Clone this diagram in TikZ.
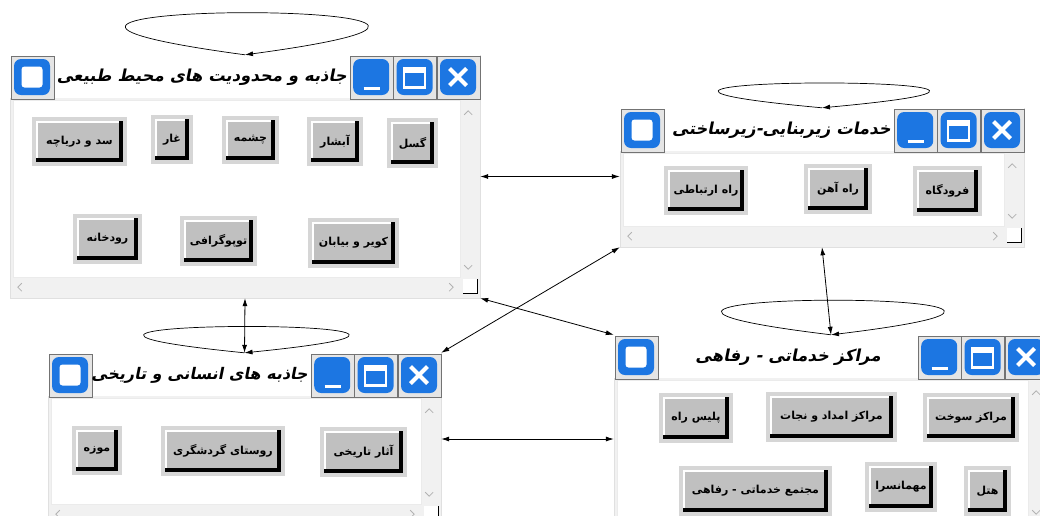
\documentclass[tikz,border=0pt]{standalone}
\usepackage{fontspec}
\usepackage{tikz}
\usetikzlibrary{arrows.meta,calc,positioning}
\TeXXeTstate=1
\newfontfamily\arabicfont[Script=Arabic]{DejaVu Sans}
\newfontfamily\titlefont[Script=Arabic,FakeSlant=0.2]{DejaVu Sans}
\definecolor{winblue}{RGB}{28,118,226}
\definecolor{btngray}{RGB}{192,192,192}
\definecolor{btnframe}{RGB}{214,214,214}
\definecolor{paneback}{RGB}{241,241,241}

\newcommand{\bluebox}{\fill[winblue, rounded corners=7pt] ([shift={(3,3)}]path picture bounding box.north west) rectangle ([shift={(-4,-4)}]path picture bounding box.south east);}

\tikzset{
  window/.style={rectangle, fill=paneback, draw=black!12, inner sep=0pt},
  capbox/.style={rectangle, fill=black!10, draw=black!55, minimum width=43pt, minimum height=43pt, inner sep=0pt},
  iconbtn/.style={capbox, path picture={\bluebox
    \fill[white, rounded corners=3pt, shift={(path picture bounding box.center)}] (-11,-11) rectangle (10,10);}},
  minbtn/.style={capbox, path picture={\bluebox
    \draw[white, line width=2.5pt, shift={(path picture bounding box.center)}] (-8,11) -- (8,11);}},
  maxbtn/.style={capbox, path picture={\bluebox
    \draw[white, line width=2.5pt, shift={(path picture bounding box.center)}] (-11,-9) rectangle (10,10);
    \fill[white, shift={(path picture bounding box.center)}] (-11,-10) rectangle (10,-5);}},
  clsbtn/.style={capbox, path picture={\bluebox
    \draw[white, line width=4pt, shift={(path picture bounding box.center)}] (-9,-9) -- (8,8) (-9,8) -- (8,-9);}},
  btn/.style={rectangle, fill=btngray, draw=btnframe, line width=4pt, inner sep=0pt,
    font=\arabicfont\bfseries\fontsize{11}{13}\selectfont,
    path picture={
      \draw[white, line width=7pt] (path picture bounding box.south west) -- (path picture bounding box.north west) -- (path picture bounding box.north east);
      \draw[black, line width=12pt] (path picture bounding box.north east) -- (path picture bounding box.south east) -- (path picture bounding box.south west);}},
  wintitle/.style={font=\titlefont\bfseries\fontsize{16.5}{20}\selectfont, inner sep=0pt},
  scrollmark/.style={black!30, line width=0.8pt},
  link/.style={<->, >={Latex[length=8pt, width=5pt]}, line width=0.8pt},
  loopy/.style={->, >={Latex[length=8pt, width=5pt]}, line width=0.7pt}
}

% title bar, caption buttons and scroll bars of a window node
\newcommand{\winchrome}[1]{%
  \fill[white] (#1.north west) rectangle ([shift={(0,43)}]#1.north east);
  \filldraw[white, draw=black!8] ([shift={(3,45)}]#1.north west) rectangle ([shift={(-20,-21)}]#1.south east);
  \node[iconbtn, anchor=north west] (#1-icon) at ([shift={(1,1)}]#1.north west) {};
  \node[clsbtn, anchor=north east] (#1-cls) at ([shift={(0,1)}]#1.north east) {};
  \node[maxbtn, anchor=north east] (#1-max) at (#1-cls.north west) {};
  \node[minbtn, anchor=north east] (#1-min) at (#1-max.north west) {};
  \draw[scrollmark] ([shift={(-16,60)}]#1.north east) -- ([shift={(-12,56)}]#1.north east) -- ([shift={(-8,60)}]#1.north east);
  \draw[scrollmark] ([shift={(-16,-33)}]#1.south east) -- ([shift={(-12,-29)}]#1.south east) -- ([shift={(-8,-33)}]#1.south east);
  \draw[scrollmark] ([shift={(12,-15)}]#1.south west) -- ([shift={(8,-11)}]#1.south west) -- ([shift={(12,-7)}]#1.south west);
  \draw[scrollmark] ([shift={(-31,-15)}]#1.south east) -- ([shift={(-27,-11)}]#1.south east) -- ([shift={(-31,-7)}]#1.south east);
  \fill[white] ([shift={(-17,-19)}]#1.south east) rectangle ([shift={(-3,-5)}]#1.south east);
  \draw[black, line width=1.2pt] ([shift={(-17,-5)}]#1.south east) -- ([shift={(-3,-5)}]#1.south east) -- ([shift={(-3,-19)}]#1.south east);
}

\begin{document}
\begin{tikzpicture}[x=1pt, y=-1pt]
\path[use as bounding box, fill=white] (0,0) rectangle (1040,515);

% windows
\node[window, minimum width=470pt, minimum height=243pt] (nat) at (245,176.5) {};
\node[window, minimum width=404pt, minimum height=139pt] (infra) at (822,177.5) {};
\node[window, minimum width=393pt, minimum height=172pt] (hist) at (244.5,439) {};
\node[window, minimum width=434pt, minimum height=208pt] (serv) at (831,439) {};
\winchrome{nat}
\winchrome{infra}
\winchrome{hist}
\winchrome{serv}

% titles
\node[wintitle, anchor=east] (nat-title) at ([shift={(-3,0)}]nat-min.west) {\beginR جاذبه و محدودیت های محیط طبیعی\endR};
\node[wintitle, anchor=east] (infra-title) at ([shift={(-3,0)}]infra-min.west) {\beginR خدمات زیربنایی-زیرساختی\endR};
\node[wintitle, anchor=east, font=\titlefont\bfseries\fontsize{16}{20}\selectfont] (hist-title) at ([shift={(-3,0)}]hist-min.west) {\beginR جاذبه های انسانی و تاریخی\endR};
\node[wintitle] (serv-title) at (788,357) {\beginR مراکز خدماتی - رفاهی\endR};

% buttons of the natural attractions
\node[btn, minimum width=47pt, minimum height=46pt] (gosal) at (412.5,143) {\beginR گسل\endR};
\node[btn, minimum width=52pt, minimum height=45pt] (abshar) at (335,141.5) {\beginR آبشار\endR};
\node[btn, minimum width=53pt, minimum height=44pt] (cheshmeh) at (250.5,140) {\beginR چشمه\endR};
\node[btn, minimum width=38pt, minimum height=45pt] (ghar) at (172,139.5) {\beginR غار\endR};
\node[btn, minimum width=91pt, minimum height=45pt] (sad) at (79.5,141.5) {\beginR سد و دریاچه\endR};
\node[btn, minimum width=87pt, minimum height=46pt] (kavir) at (353.5,243) {\beginR کویر و بیابان\endR};
\node[btn, minimum width=73pt, minimum height=46pt] (topo) at (218.5,241) {\beginR توپوگرافی\endR};
\node[btn, minimum width=65pt, minimum height=46pt] (rud) at (107.5,239) {\beginR رودخانه\endR};

% buttons of the infrastructure
\node[btn, minimum width=80pt, minimum height=45pt] (rahert) at (706,190.5) {\beginR راه ارتباطی\endR};
\node[btn, minimum width=64pt, minimum height=46pt] (rahahan) at (838,189) {\beginR راه آهن\endR};
\node[btn, minimum width=65pt, minimum height=46pt] (forud) at (947.5,191) {\beginR فرودگاه\endR};

% buttons of the human and historical attractions
\node[btn, minimum width=46pt, minimum height=45pt] (muzeh) at (97,450.5) {\beginR موزه\endR};
\node[btn, minimum width=120pt, minimum height=46pt] (rusta) at (223,451) {\beginR روستای گردشگری\endR};
\node[btn, minimum width=83pt, minimum height=46pt] (asar) at (363.5,452) {\beginR آثار تاریخی\endR};

% buttons of the service centres
\node[btn, minimum width=70pt, minimum height=46pt] (police) at (696,418) {\beginR پلیس راه\endR};
\node[btn, minimum width=127pt, minimum height=46pt] (emdad) at (831.5,417) {\beginR مراکز امداد و نجات\endR};
\node[btn, minimum width=92pt, minimum height=45pt] (sukht) at (971,417.5) {\beginR مراکز سوخت\endR};
\node[btn, minimum width=149pt, minimum height=46pt] (mojtama) at (755.5,491) {\beginR مجتمع خدماتی - رفاهی\endR};
\node[btn, minimum width=68pt, minimum height=46pt] (mehman) at (901,487) {\beginR مهمانسرا\endR};
\node[btn, minimum width=43pt, minimum height=46pt] (hotel) at (987.5,491) {\beginR هتل\endR};

% self loops
\draw[loopy] (nat.north) .. controls +(-415,-56) and +(415,-56) .. (nat.north);
\draw[loopy] (infra.north) .. controls +(-360,-33) and +(360,-33) .. (infra.north);
\draw[loopy] (hist.north) .. controls +(-350,-35) and +(350,-35) .. (hist.north);
\draw[loopy] (serv.north) .. controls +(-380,-46) and +(380,-46) .. (serv.north);

% links between windows
\draw[link] (nat.east) -- (infra.west |- nat.east);
\draw[link] (nat.south east) -- (serv.north west);
\draw[link] (infra.south west) -- (hist.north east);
\draw[link] (nat.south) -- (hist.north);
\draw[link] (infra.south) -- (serv.north);
\draw[link] (hist.east) -- (serv.west |- hist.east);
\end{tikzpicture}
\end{document}
